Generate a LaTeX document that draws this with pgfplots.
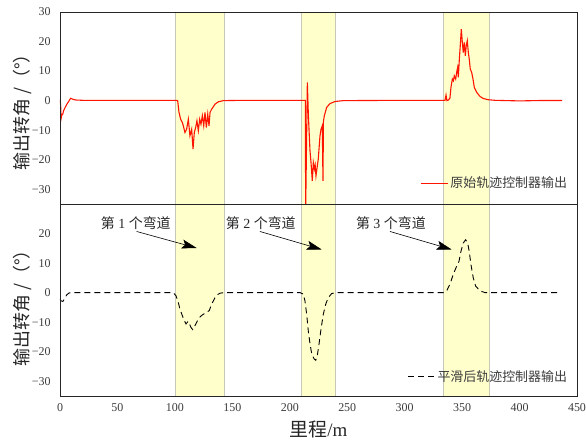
\documentclass[border=0pt]{standalone}
\usepackage{fontspec}
\setmainfont{Liberation Serif}
\newfontfamily\cjk{Noto Sans CJK SC}
\usepackage{pgfplots}
\pgfplotsset{compat=1.18}
\usetikzlibrary{arrows.meta}
\definecolor{band}{RGB}{255,255,204}
\definecolor{bandedge}{RGB}{200,200,185}
\definecolor{ticktext}{RGB}{60,60,60}
\definecolor{rawred}{RGB}{255,20,0}

\pgfplotstableread{
x y
0 0.3
0.5 -1
1 -6
1.5 -5
2.5 -4.5
3 -3.5
4.5 -2.3
6 -1.2
7.5 -0.3
9.3 0.8
11.5 0.4
14 0.2
20 0.1
50 0.1
101.5 0.1
102.4 0
103.6 -4
105 -6.3
106.5 -7.4
107.3 -8.5
108.8 -10.8
110.2 -9.7
111.7 -6.3
113.1 -11.9
114.6 -9.7
115.8 -16.4
116.9 -10.8
118.1 -9.1
119.2 -6.8
120.4 -10.2
121.6 -6.3
122.7 -8
123.9 -5.1
125.1 -8.5
126.2 -4
127.4 -9.1
128.6 -4.6
129.7 -8.5
130.6 -4
132 -2.9
134.9 -1.2
137.8 -0.4
142.2 0
160 0.1
213.6 0.1
213.8 -38
215.3 6.2
216.2 -5.1
217.6 -17
218.5 -21
219.6 -27.2
220.5 -21
221.4 -23.2
222.1 -21.8
222.8 -25.5
224 -22
224.8 -19.8
226.3 -11.9
227.2 -9.7
228.3 -8.5
228.9 -27.2
229.3 -7
230.1 -5.1
232.1 -2.3
235 -1
239.4 -0.3
246.6 0
300 0.1
335.1 0.1
336 1.9
336.8 0
338 0.2
339.4 0.8
340.3 4.5
341.5 7.3
342.4 6.7
343.2 8.4
344.4 7.3
345.3 9.6
346.1 11.2
346.7 7.9
347.6 14.1
348.4 18.6
349.3 24.2
350.2 19.7
351 16.3
351.9 19.7
352.8 15.2
353.6 18.6
354.5 20.3
355.4 16.3
356.2 14.1
357.1 10.7
358.3 9.6
359.5 7.3
360.6 4.5
362.7 2.8
365.6 1.4
368.5 0.7
372.9 0.3
378.6 0.1
400 -0.1
420 0.05
437 0.05
}\rawdata

\pgfplotstableread{
x y
0 -2.2
1 -2.8
2.5 -3
4 -2
6 -0.7
8 -0.1
10 0
50 0
98.6 0
101 -1.1
103 -3.4
104.4 -5.6
106.5 -7.8
108.2 -9.5
109.7 -10.6
111.5 -9.7
112.6 -10.5
114 -11.8
115.5 -12.5
117.5 -11.2
120.4 -8.9
122.5 -8
124.8 -7.3
127.7 -6.8
130 -6
132 -3.9
134.9 -1.7
137 -0.7
139.3 -0.2
142.7 0
208.9 0
211.8 -0.5
213.2 -2.8
214.7 -7.3
216.1 -12.9
217.6 -17.3
219.1 -20.7
221.1 -22.4
222.6 -22.9
224 -21.2
225.5 -17.3
227.2 -12.3
229.2 -7.3
231.3 -3.9
233.5 -1.7
236.5 -0.3
240.8 0
333.6 0
336.5 0.6
339.4 2.8
342.3 6.2
345.3 9
347.3 10.6
349 14
351 16.8
353.1 17.9
354.8 16.8
356.2 14
357.7 9.5
359.7 5
361.8 2.2
365.6 0.6
369.9 0
435 0
}\smoothdata

\pgfplotsset{
 common/.style={
  width=517bp,height=192bp,scale only axis,
  xmin=0,xmax=450,ymin=-35,ymax=30,
  xtick={0,50,...,450},
  major tick length=0pt,
  axis on top,
  axis line style={line width=0.9bp, black!85},
  tick label style={font=\fontsize{12}{14}\selectfont, text=ticktext},
  /pgf/number format/assume math mode=true,
  yticklabel style={xshift=-6bp},
  xticklabel style={yshift=-4bp},
  legend image code/.code={\draw[##1] (0bp,0bp) -- (27bp,0bp);},
  legend style={draw=none, fill=none, font=\cjk\fontsize{13}{15}\selectfont, text=ticktext, inner sep=0pt},
  ylabel style={at={(axis description cs:-0.0725,0.5)}, anchor=center, font=\cjk\fontsize{18}{20}\selectfont, text=black!85},
 },
}

\begin{document}
\begin{tikzpicture}
\useasboundingbox (-60bp,-48bp) rectangle (526bp,396bp);
% top axis
\begin{axis}[common, at={(0bp,192bp)}, anchor=south west,
  xticklabels={},
  ytick={-30,-20,-10,0,10,20,30},
  yticklabels={−30,−20,−10,0,10,20,30},
  ylabel={输出转角 /（°）},
  legend style={at={(axis description cs:0.985,0.108)}, anchor=east},
]
\addplot[fill=band, draw=bandedge, line width=0.7bp, forget plot] coordinates {(100,-35) (100,30) (143,30) (143,-35)} -- cycle;
\addplot[fill=band, draw=bandedge, line width=0.7bp, forget plot] coordinates {(210,-35) (210,30) (240,30) (240,-35)} -- cycle;
\addplot[fill=band, draw=bandedge, line width=0.7bp, forget plot] coordinates {(334,-35) (334,30) (374,30) (374,-35)} -- cycle;
\addplot[rawred, line width=1.1bp] table[x=x,y=y] {\rawdata};
\addlegendentry{原始轨迹控制器输出}
\end{axis}
% bottom axis
\begin{axis}[common, at={(0bp,0bp)}, anchor=south west,
  ytick={-30,-20,-10,0,10,20},
  yticklabels={−30,−20,−10,0,10,20},
  ylabel={输出转角 /（°）},
  ylabel style={at={(axis description cs:-0.0725,0.48)}},
  xlabel={{\cjk 里程}/m},
  xlabel style={at={(axis description cs:0.5,-0.172)}, anchor=center, font=\fontsize{19}{21}\selectfont, text=black!85},
  legend style={at={(axis description cs:0.985,0.1)}, anchor=east},
]
\addplot[fill=band, draw=bandedge, line width=0.7bp, forget plot] coordinates {(100,-35) (100,30) (143,30) (143,-35)} -- cycle;
\addplot[fill=band, draw=bandedge, line width=0.7bp, forget plot] coordinates {(210,-35) (210,30) (240,30) (240,-35)} -- cycle;
\addplot[fill=band, draw=bandedge, line width=0.7bp, forget plot] coordinates {(334,-35) (334,30) (374,30) (374,-35)} -- cycle;
\addplot[black, line width=0.9bp, dash pattern=on 6bp off 4bp] table[x=x,y=y] {\smoothdata};
\addlegendentry{平滑后轨迹控制器输出}
\node[font=\fontsize{14}{16}\selectfont, text=black!85] at (axis cs:66,23.5) {{\cjk 第} 1 {\cjk 个弯道}};
\node[font=\fontsize{14}{16}\selectfont, text=black!85] at (axis cs:174.8,23.5) {{\cjk 第} 2 {\cjk 个弯道}};
\node[font=\fontsize{14}{16}\selectfont, text=black!85] at (axis cs:288,23.5) {{\cjk 第} 3 {\cjk 个弯道}};
\draw[line width=0.6bp, -{Stealth[length=15bp,width=9bp,inset=3bp]}] (axis cs:66.7,20.7) -- (axis cs:119,15.1);
\draw[line width=0.6bp, -{Stealth[length=15bp,width=9bp,inset=3bp]}] (axis cs:174,20.7) -- (axis cs:227.8,14.6);
\draw[line width=0.6bp, -{Stealth[length=15bp,width=9bp,inset=3bp]}] (axis cs:287.2,20.7) -- (axis cs:340.9,14.6);
\end{axis}
\end{tikzpicture}
\end{document}
